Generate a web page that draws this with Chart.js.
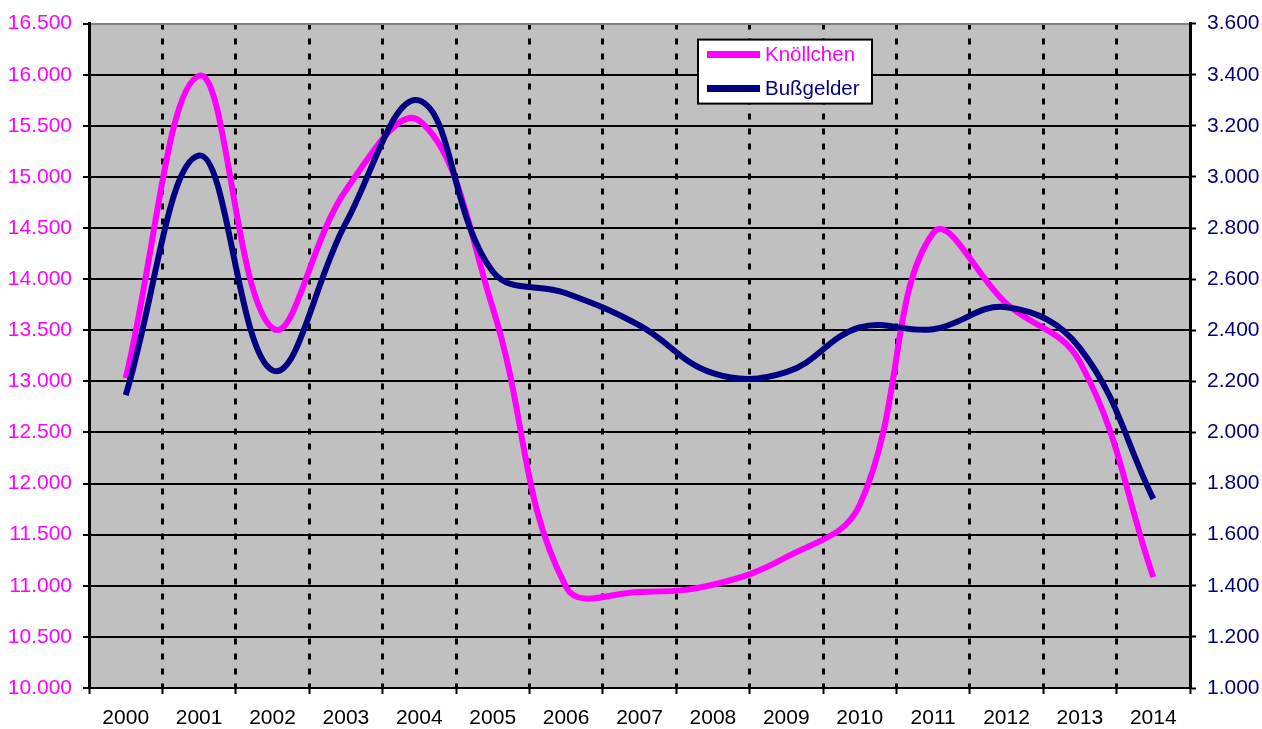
<!DOCTYPE html>
<html>
<head>
<meta charset="utf-8">
<script src="https://cdn.jsdelivr.net/npm/chart.js@4/dist/chart.umd.min.js"></script>
<style>
  html, body { margin: 0; padding: 0; background: #fff; }
  #wrap { width: 1262px; height: 729px; }
</style>
</head>
<body>
<div id="wrap"><canvas id="chart" width="1262" height="729"></canvas></div>
<script>
// --- Daten ---
const jahre = ['2000','2001','2002','2003','2004','2005','2006','2007','2008','2009','2010','2011','2012','2013','2014'];
const knoellchen = [13030, 15990, 13520, 14870, 15550, 13720, 10990, 10940, 11010, 11280, 11790, 14450, 13760, 13190, 11085];
const bussgelder = [2146, 3084, 2243, 2820, 3299, 2630, 2545, 2419, 2232, 2236, 2411, 2404, 2490, 2330, 1740];

const PINK = '#FF00FF';
const NAVY = '#000080';
const FONT = '"Liberation Sans", Arial, sans-serif';

// Zahlen mit Tausenderpunkt
function fmt(v) {
    return String(v).replace(/\B(?=(\d{3})+(?!\d))/g, '.');
}

// --- Legende im Diagramm ---
const legendBox = {
    id: 'legendBox',
    afterDraw(chart) {
        const ctx = chart.ctx;
        const a = chart.chartArea;
        const x = a.left + 609, y = a.top + 16, w = 174, h = 64;
        ctx.save();
        ctx.fillStyle = '#fff';
        ctx.fillRect(x, y, w, h);
        ctx.strokeStyle = '#000';
        ctx.lineWidth = 2;
        ctx.strokeRect(x, y, w, h);
        ctx.font = '20.5px ' + FONT;
        ctx.textBaseline = 'middle';
        chart.data.datasets.forEach((ds, i) => {
            const ly = y + 15 + i * 34;
            ctx.strokeStyle = ds.borderColor;
            ctx.lineWidth = 7;
            ctx.beginPath();
            ctx.moveTo(x + 9, ly);
            ctx.lineTo(x + 62, ly);
            ctx.stroke();
            ctx.fillStyle = ds.borderColor;
            ctx.fillText(ds.label, x + 67, ly + 1);
        });
        ctx.restore();
    }
};

// --- Hintergrund der Zeichenfläche ---
const plotBg = {
    id: 'plotBg',
    beforeDraw(chart) {
        const a = chart.chartArea;
        chart.ctx.save();
        chart.ctx.fillStyle = '#C0C0C0';
        chart.ctx.fillRect(a.left, a.top, a.right - a.left, a.bottom - a.top);
        chart.ctx.restore();
    }
};

new Chart(document.getElementById('chart').getContext('2d'), {
    type: 'line',
    data: {
        labels: jahre,
        datasets: [
            { label: 'Knöllchen', data: knoellchen, yAxisID: 'y', borderColor: PINK, borderWidth: 6, tension: 0.4, pointRadius: 0, order: 1 },
            { label: 'Bußgelder', data: bussgelder, yAxisID: 'y2', borderColor: NAVY, borderWidth: 6, tension: 0.4, pointRadius: 0, order: 0 }
        ]
    },
    options: {
        responsive: false,
        animation: false,
        layout: { padding: { top: 23, left: 0, right: 0, bottom: 0 } },
        plugins: { legend: { display: false }, tooltip: { enabled: false } },
        scales: {
            x: {
                offset: true,
                afterFit: s => { s.height = 41; },
                grid: { offset: true, color: '#000', lineWidth: 3, tickLength: 6, tickColor: '#000', tickWidth: 2, tickBorderDash: [] },
                border: { display: true, color: '#000', width: 2, dash: [6, 9] },
                ticks: { color: '#000', font: { family: FONT, size: 21 }, padding: 12, maxRotation: 0, autoSkip: false }
            },
            y: {
                position: 'left',
                min: 10000, max: 16500,
                afterFit: s => { s.width = 89; },
                grid: { color: c => c.tick && c.tick.value === 16500 ? '#808080' : '#000', lineWidth: 2, tickLength: 6, tickColor: '#000', tickWidth: 2 },
                border: { color: '#000', width: 3 },
                ticks: { stepSize: 500, color: PINK, font: { family: FONT, size: 21 }, padding: 11, callback: v => fmt(v) }
            },
            y2: {
                position: 'right',
                min: 1000, max: 3600,
                afterFit: s => { s.width = 72; },
                grid: { drawOnChartArea: false, tickLength: 6, tickColor: '#000', tickWidth: 2 },
                border: { color: '#000', width: 3 },
                ticks: { stepSize: 200, color: NAVY, font: { family: FONT, size: 21 }, padding: 11, callback: v => fmt(v) }
            }
        }
    },
    plugins: [plotBg, legendBox]
});
</script>
</body>
</html>
